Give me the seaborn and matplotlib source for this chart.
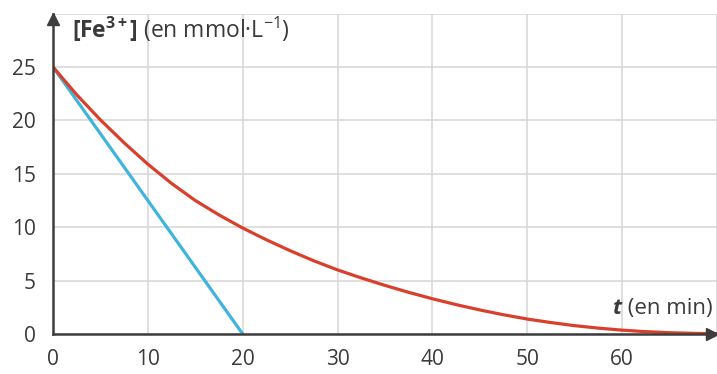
import numpy as np
import pandas as pd
import seaborn as sns
import matplotlib.pyplot as plt

# concentration readings (min, mmol/L)
t_min = [0, 2.5, 5, 7.5, 10, 12.5, 15, 17.5, 20, 22.5, 25, 27.5, 30, 32.5, 35,
         37.5, 40, 42.5, 45, 47.5, 50, 52.5, 55, 57.5, 60, 62.5, 65, 67.5, 70]
fe_conc = [25, 22.4, 20.05, 17.9, 15.9, 14.1, 12.5, 11.15, 9.92, 8.82, 7.8, 6.85, 6.0, 5.25, 4.55,
           3.9, 3.3, 2.75, 2.25, 1.8, 1.4, 1.07, 0.78, 0.55, 0.36, 0.22, 0.12, 0.06, 0.03]

# tangent at t = 0
tan_t = [0, 20]
tan_c = [25, 0]

x_ticks = [0, 10, 20, 30, 40, 50, 60]
y_ticks = [0, 5, 10, 15, 20, 25]

sns.set_style("whitegrid")
plt.rcParams['font.family'] = ['Open Sans', 'DejaVu Sans']
plt.rcParams['mathtext.fontset'] = 'custom'
plt.rcParams['mathtext.rm'] = 'Open Sans'
plt.rcParams['mathtext.bf'] = 'Open Sans:bold'
plt.rcParams['mathtext.it'] = 'Open Sans:italic'

dark = '#3d3d3d'
txt = '#3a3a3a'

fig = plt.figure(figsize=(7.17, 3.74), dpi=100)
ax = fig.add_axes([53 / 717, 40 / 374, 664 / 717, 320.4 / 374])

df = pd.DataFrame({'t': t_min, 'c': fe_conc})
tan = pd.DataFrame({'t': tan_t, 'c': tan_c})
sns.lineplot(data=tan, x='t', y='c', color='#3fb4dc', lw=2.3, ax=ax)
sns.lineplot(data=df, x='t', y='c', color='#d8402c', lw=2.3, ax=ax)

ax.set_xlim(0, 70)
ax.set_ylim(0, 30)
ax.set_xticks(x_ticks + [70])
ax.set_xticklabels([str(v) for v in x_ticks] + [''])
ax.set_yticks(y_ticks + [30])
ax.set_yticklabels([str(v) for v in y_ticks] + [''])
ax.grid(color='#d6d6d6', lw=1.1)
ax.set_xlabel('')
ax.set_ylabel('')

for s in ['top', 'right']:
    ax.spines[s].set_visible(False)
for s in ['left', 'bottom']:
    ax.spines[s].set_color(dark)
    ax.spines[s].set_linewidth(1.8)
    ax.spines[s].set_zorder(3)

ax.tick_params(axis='both', which='major', length=4.5, width=1.5, color=dark,
               labelsize=15, labelcolor=txt, direction='out')
ax.yaxis.set_tick_params(pad=8)
ax.xaxis.set_tick_params(pad=6)
# hide the ticks at 30 / 70
ax.xaxis.get_major_ticks()[-1].tick1line.set_visible(False)
ax.yaxis.get_major_ticks()[-1].tick1line.set_visible(False)

# axis arrows
ax.plot(0, 0.983, marker='^', ms=9, color=dark, transform=ax.transAxes, clip_on=False, zorder=4)
ax.plot(0.993, 0, marker='>', ms=9, color=dark, transform=ax.transAxes, clip_on=False, zorder=4)

ax.text(0.028, 0.924, r'$\mathbf{[Fe^{3+}]}$ (en mmol·L$^{-1}$)', transform=ax.transAxes,
        ha='left', va='baseline', fontsize=16.5, color=txt)
lab = ax.text(0.994, 0.062, ' (en min)', transform=ax.transAxes,
              ha='right', va='baseline', fontsize=16, color=txt)
ax.annotate('t', xy=(0, 0), xycoords=lab, ha='right', va='bottom',
            fontsize=16, fontweight='bold', fontstyle='italic', color=txt)

fig.savefig('out.png', dpi=100)
